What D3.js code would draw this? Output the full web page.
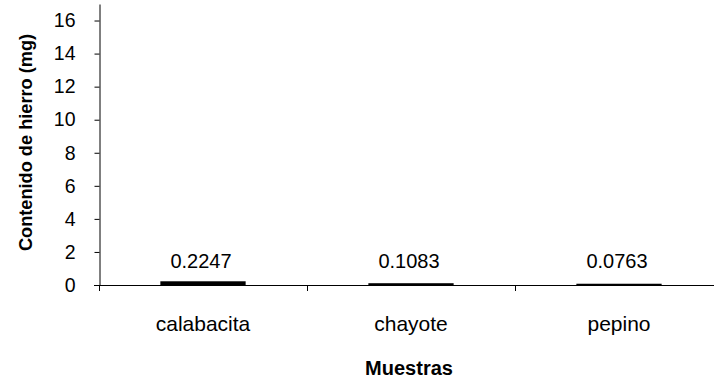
<!DOCTYPE html>
<html><head><meta charset="utf-8">
<script src="https://cdn.jsdelivr.net/npm/d3@7"></script>
<style>body{margin:0;background:#fff}svg{display:block}text{font-family:"Liberation Sans",Arial,sans-serif}</style>
</head><body><svg id="c" width="714" height="381"></svg>
<script>
const categories = ["calabacita", "chayote", "pepino"];
const values = [0.2247, 0.1083, 0.0763];
const valueLabels = ["0.2247", "0.1083", "0.0763"];
const yTicks = [0, 2, 4, 6, 8, 10, 12, 14, 16];
const yTitle = "Contenido de hierro (mg)";
const xTitle = "Muestras";

const svg = d3.select("#c");
const x0 = 99, xEnd = 714, y0 = 285;
const x = d3.scaleBand().domain(categories).range([x0, x0 + 208 * 3]);
const y = d3.scaleLinear().domain([0, 17]).range([y0, 4]);

// y axis
const ya = svg.append("g").attr("transform", `translate(${x0 + 0.5},0)`)
  .call(d3.axisLeft(y).tickValues(yTicks).tickSize(5).tickPadding(19).tickSizeOuter(0));
ya.select(".domain").attr("stroke", "#000");
ya.selectAll(".tick line").attr("stroke", "#000");
ya.selectAll(".tick text").attr("font-size", 19.5).attr("fill", "#000")
  .attr("font-family", '"Liberation Sans",Arial,sans-serif');

// x axis line
svg.append("line").attr("x1", x0 - 5).attr("x2", xEnd).attr("y1", y0 + 0.5).attr("y2", y0 + 0.5).attr("stroke", "#000");
// category separator ticks
const seps = [x.range()[0], ...categories.slice(1).map(c => x(c))];
svg.selectAll(".sep").data(seps).join("line")
  .attr("x1", d => Math.round(d) + 0.5).attr("x2", d => Math.round(d) + 0.5)
  .attr("y1", y0).attr("y2", y0 + 6).attr("stroke", "#000");

// bars
const bw = x.bandwidth() * 0.41;
svg.selectAll(".bar").data(values).join("rect")
  .attr("x", (d, i) => x(categories[i]) + x.bandwidth() / 2 - bw / 2)
  .attr("width", bw)
  .attr("y", d => y(d))
  .attr("height", d => y0 - y(d))
  .attr("fill", "#000");

// value labels
svg.selectAll(".vl").data(values).join("text")
  .attr("x", (d, i) => x(categories[i]) + x.bandwidth() / 2 - 2)
  .attr("y", 268)
  .attr("text-anchor", "middle").attr("font-size", 20).text((d, i) => valueLabels[i]);

// category labels
svg.selectAll(".cl").data(categories).join("text")
  .attr("x", d => x(d) + x.bandwidth() / 2)
  .attr("y", 331)
  .attr("text-anchor", "middle").attr("font-size", 21).text(d => d);

// titles
svg.append("text").attr("x", 409).attr("y", 375).attr("text-anchor", "middle")
  .attr("font-size", 20).attr("font-weight", "bold").text(xTitle);
svg.append("text").attr("transform", "translate(31.5,142.5) rotate(-90)").attr("text-anchor", "middle")
  .attr("font-size", 18.2).attr("font-weight", "bold").text(yTitle);
</script></body></html>
